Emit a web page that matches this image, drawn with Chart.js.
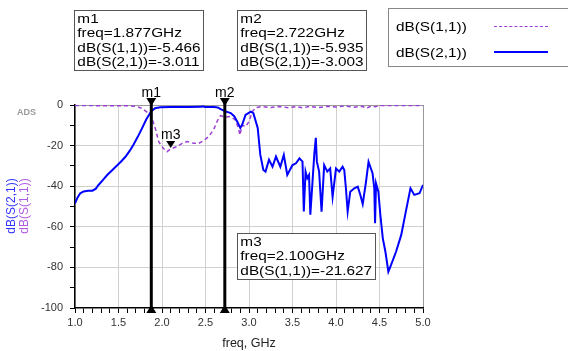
<!DOCTYPE html>
<html>
<head>
<meta charset="utf-8">
<script src="https://cdn.jsdelivr.net/npm/chart.js@4.4.1/dist/chart.umd.min.js"></script>
<style>
    body { margin: 0; background: #fff; font-family: "Liberation Sans", Arial, sans-serif; }
    #wrap { position: relative; width: 568px; height: 351px; overflow: hidden; }
    canvas { position: absolute; left: 0; top: 0; }
    .box { position: absolute; box-sizing: border-box; border: 1px solid #555; background: #fff; }
    .box .txt { font-size: 13px; line-height: 14.3px; padding: 1px 0 0 2px; transform: scaleX(1.18); transform-origin: left top; white-space: nowrap; color: #000; }
    #legend { left: 388px; top: 8px; width: 200px; height: 59px; border-color: #888; }
    .leg-row { position: absolute; left: 7px; font-size: 13px; transform: scaleX(1.18); transform-origin: left center; white-space: nowrap; }
    .leg-line { position: absolute; left: 105px; width: 54px; height: 0; }
</style>
</head>
<body>
<div id="wrap">
    <canvas id="myChart" width="568" height="351"></canvas>
    <div class="box" style="left:74px; top:10px; width:130px; height:61px;">
        <div class="txt">m1<br>freq=1.877GHz<br>dB(S(1,1))=-5.466<br>dB(S(2,1))=-3.011</div>
    </div>
    <div class="box" style="left:237px; top:10px; width:130px; height:61px;">
        <div class="txt">m2<br>freq=2.722GHz<br>dB(S(1,1))=-5.935<br>dB(S(2,1))=-3.003</div>
    </div>
    <div class="box" style="left:237px; top:233px; width:139px; height:47px;">
        <div class="txt">m3<br>freq=2.100GHz<br>dB(S(1,1))=-21.627</div>
    </div>
    <div class="box" id="legend">
        <div class="leg-row" style="top:10px;">dB(S(1,1))</div>
        <div class="leg-line" style="top:17px; border-top:1.5px dashed #9c3fd6;"></div>
        <div class="leg-row" style="top:36px;">dB(S(2,1))</div>
        <div class="leg-line" style="top:42px; border-top:2px solid #0000ff;"></div>
    </div>
</div>
<script>
'use strict';

// Datos (frecuencia en GHz, magnitud en dB)
const s21Freq = [1.00, 1.03, 1.06, 1.10, 1.15, 1.20, 1.24, 1.27, 1.32, 1.37, 1.43, 1.48, 1.53, 1.58, 1.63, 1.67, 1.72, 1.77, 1.82, 1.877,
    1.92, 1.98, 2.10, 2.30, 2.45, 2.47, 2.49, 2.60, 2.64, 2.68, 2.722, 2.79, 2.83, 2.865, 2.90, 2.92, 2.96, 3.02, 3.05, 3.10,
    3.13, 3.165, 3.19, 3.23, 3.27, 3.31, 3.36, 3.40, 3.44, 3.50, 3.54, 3.58, 3.615, 3.63, 3.65, 3.67, 3.69, 3.705, 3.73, 3.75,
    3.768, 3.78, 3.806, 3.834, 3.864, 3.90, 3.933, 3.961, 4.00, 4.037, 4.076, 4.095, 4.114, 4.134, 4.164, 4.21, 4.25, 4.28, 4.307, 4.345,
    4.374, 4.42, 4.44, 4.449, 4.46, 4.487, 4.51, 4.538, 4.568, 4.602, 4.633, 4.69, 4.75, 4.81, 4.856, 4.90, 4.96, 5.00];
const s21dB = [-48.5, -45.5, -43.5, -42.6, -42.3, -42.2, -41.2, -39.4, -37.0, -34.5, -32.0, -29.9, -27.8, -25.5, -22.5, -19.7, -15.8, -11.5, -7.0, -3.0,
    -1.6, -1.1, -1.0, -1.0, -0.9, -0.6, -1.0, -1.0, -1.2, -2.2, -3.0, -4.0, -5.5, -8.2, -11.3, -9.9, -4.9, -3.3, -4.0, -11.3,
    -24.6, -32.0, -32.8, -27.0, -30.4, -25.4, -30.4, -24.6, -34.5, -29.6, -28.7, -26.3, -27.9, -52.5, -32.8, -36.1, -34.5, -54.0, -37.8, -24.6,
    -16.2, -27.9, -32.8, -52.5, -29.6, -32.8, -31.2, -45.3, -31.2, -32.8, -30.4, -32.0, -41.0, -52.5, -42.7, -41.0, -40.2, -44.3, -48.8, -37.8,
    -28.0, -33.6, -41.0, -58.3, -38.6, -42.7, -54.2, -65.7, -72.3, -82.1, -78.8, -72.3, -64.0, -50.9, -41.0, -44.3, -43.5, -39.4];

const s11Freq = [1.00, 1.20, 1.40, 1.60, 1.70, 1.769, 1.845, 1.877, 1.93, 1.961, 2.00, 2.018, 2.058, 2.10, 2.173, 2.231, 2.288, 2.364, 2.422, 2.48,
    2.537, 2.595, 2.634, 2.672, 2.722, 2.788, 2.845, 2.884, 2.895, 2.923, 2.961, 2.999, 3.038, 3.076, 3.15, 3.25, 3.35, 3.45, 3.55, 3.62,
    3.70, 3.80, 3.90, 4.00, 4.10, 4.20, 4.30, 4.35, 4.40, 4.45, 4.50, 4.70, 5.00];
const s11dB = [-0.3, -0.3, -0.4, -0.4, -0.6, -1.6, -4.1, -5.466, -12.5, -18.0, -20.5, -21.4, -23.0, -21.627, -20.5, -18.9, -18.0, -18.9, -18.9, -17.5,
    -15.6, -12.0, -8.0, -5.2, -5.935, -5.7, -7.4, -12.3, -14.8, -9.9, -10.7, -8.2, -3.3, -1.3, -0.8, -1.2, -0.7, -1.3, -0.8, -1.4,
    -0.7, -1.3, -0.6, -1.0, -0.5, -1.1, -0.6, -1.6, -0.6, -0.9, -0.3, -0.2, -0.2];

// Marcadores m1, m2 (S21) y m3 (S11)
const markerNames = ['m1', 'm2'];
const markerFreqs = [1.877, 2.722];
const m3Freq = 2.100;
const m3Value = -21.627;

const xTickLabels = ['1.0', '1.5', '2.0', '2.5', '3.0', '3.5', '4.0', '4.5', '5.0'];
const yTickLabels = ['0', '-20', '-40', '-60', '-80', '-100'];

const blue = '#0000ff';
const purple = '#9c3fd6';

function toPoints(xs, ys) {
    return xs.map((x, i) => ({ x: x, y: ys[i] }));
}

function isMajorX(v) {
    return Math.abs(v * 2 - Math.round(v * 2)) < 1e-6;
}

function isMajorY(v) {
    return Math.abs(v % 20) < 1e-6;
}

// Dibuja las líneas de marcador, triángulos y títulos del eje Y
const markerPlugin = {
    id: 'markers',
    afterDatasetsDraw(chart) {
        const ctx = chart.ctx;
        const xs = chart.scales.x;
        const ys = chart.scales.y;
        const area = chart.chartArea;
        ctx.save();
        ctx.fillStyle = '#000';
        ctx.strokeStyle = '#000';
        markerNames.forEach(function (name, i) {
            const px = xs.getPixelForValue(markerFreqs[i]);
            ctx.lineWidth = 3;
            ctx.beginPath();
            ctx.moveTo(px, area.top - 6);
            ctx.lineTo(px, area.bottom);
            ctx.stroke();
            ctx.beginPath();
            ctx.moveTo(px - 5, area.top - 7);
            ctx.lineTo(px + 5, area.top - 7);
            ctx.lineTo(px, area.top + 1);
            ctx.closePath();
            ctx.fill();
            ctx.beginPath();
            ctx.moveTo(px, area.bottom - 3);
            ctx.lineTo(px - 5, area.bottom + 5);
            ctx.lineTo(px + 5, area.bottom + 5);
            ctx.closePath();
            ctx.fill();
            ctx.font = '14px "Liberation Sans", Arial, sans-serif';
            ctx.textAlign = 'center';
            ctx.textBaseline = 'alphabetic';
            ctx.fillText(name, px, area.top - 8);
        });
        // m3 sobre S11
        const mx = xs.getPixelForValue(m3Freq);
        const my = ys.getPixelForValue(m3Value);
        ctx.beginPath();
        ctx.moveTo(mx - 4.5, my - 8);
        ctx.lineTo(mx + 4.5, my - 8);
        ctx.lineTo(mx, my - 1);
        ctx.closePath();
        ctx.fill();
        ctx.font = '14px "Liberation Sans", Arial, sans-serif';
        ctx.textAlign = 'center';
        ctx.fillText('m3', mx, my - 10);

        // Etiqueta ADS
        ctx.font = 'bold 9px "Liberation Sans", Arial, sans-serif';
        ctx.fillStyle = '#9a9a9a';
        ctx.textAlign = 'left';
        ctx.textBaseline = 'middle';
        ctx.fillText('ADS', 17, 113);

        // Títulos del eje Y en dos colores
        ctx.font = '12px "Liberation Sans", Arial, sans-serif';
        ctx.textAlign = 'center';
        ctx.textBaseline = 'middle';
        ctx.translate(12, 206);
        ctx.rotate(-Math.PI / 2);
        ctx.fillStyle = '#3333ff';
        ctx.fillText('dB(S(2,1))', 0, 0);
        ctx.fillStyle = '#b05ce0';
        ctx.fillText('dB(S(1,1))', 0, 13);
        ctx.restore();
    }
};

const ctx = document.getElementById('myChart').getContext('2d');

new Chart(ctx, {
    type: 'line',
    data: {
        datasets: [
            {
                label: 'dB(S(2,1))',
                data: toPoints(s21Freq, s21dB),
                borderColor: blue,
                borderWidth: 2,
                pointRadius: 0,
                fill: false,
                tension: 0
            },
            {
                label: 'dB(S(1,1))',
                data: toPoints(s11Freq, s11dB),
                borderColor: purple,
                borderWidth: 1.5,
                borderDash: [4, 3],
                pointRadius: 0,
                fill: false,
                tension: 0
            }
        ]
    },
    options: {
        responsive: false,
        animation: false,
        layout: { padding: { top: 105, right: 145, left: 0, bottom: 0 } },
        plugins: {
            legend: { display: false },
            tooltip: { enabled: false }
        },
        scales: {
            x: {
                type: 'linear',
                min: 1,
                max: 5,
                afterFit: function (scale) { scale.height = 43; },
                border: { display: true, color: '#000', width: 1.5 },
                grid: {
                    color: function (c) {
                        const v = c.tick.value;
                        if (Math.abs(v - 5) < 1e-6) return '#999';
                        return isMajorX(v) ? '#d0d0d0' : 'rgba(0,0,0,0)';
                    },
                    tickColor: '#000',
                    tickLength: 5
                },
                ticks: {
                    stepSize: 0.1,
                    autoSkip: false,
                    maxRotation: 0,
                    padding: 3,
                    color: '#333',
                    font: { size: 11, family: '"Liberation Sans", Arial, sans-serif' },
                    callback: function (v) {
                        if (!isMajorX(v)) return '';
                        return xTickLabels[Math.round((v - 1) * 2)];
                    }
                },
                title: {
                    display: true,
                    text: 'freq, GHz',
                    color: '#222',
                    padding: 0,
                    font: { size: 12.5, family: '"Liberation Sans", Arial, sans-serif' }
                }
            },
            y: {
                min: -100,
                max: 0,
                afterFit: function (scale) { scale.width = 75; },
                border: { display: true, color: '#000', width: 1.5 },
                grid: {
                    color: function (c) {
                        const v = c.tick.value;
                        if (v === 0) return '#999';
                        if (v === -100) return 'rgba(0,0,0,0)';
                        return isMajorY(v) ? '#d0d0d0' : 'rgba(0,0,0,0)';
                    },
                    tickColor: '#000',
                    tickLength: 5
                },
                ticks: {
                    stepSize: 10,
                    autoSkip: false,
                    padding: 7,
                    color: '#333',
                    font: { size: 11, family: '"Liberation Sans", Arial, sans-serif' },
                    callback: function (v) {
                        if (!isMajorY(v)) return '';
                        return yTickLabels[Math.round(-v / 20)];
                    }
                }
            }
        }
    },
    plugins: [markerPlugin]
});
</script>
</body>
</html>
